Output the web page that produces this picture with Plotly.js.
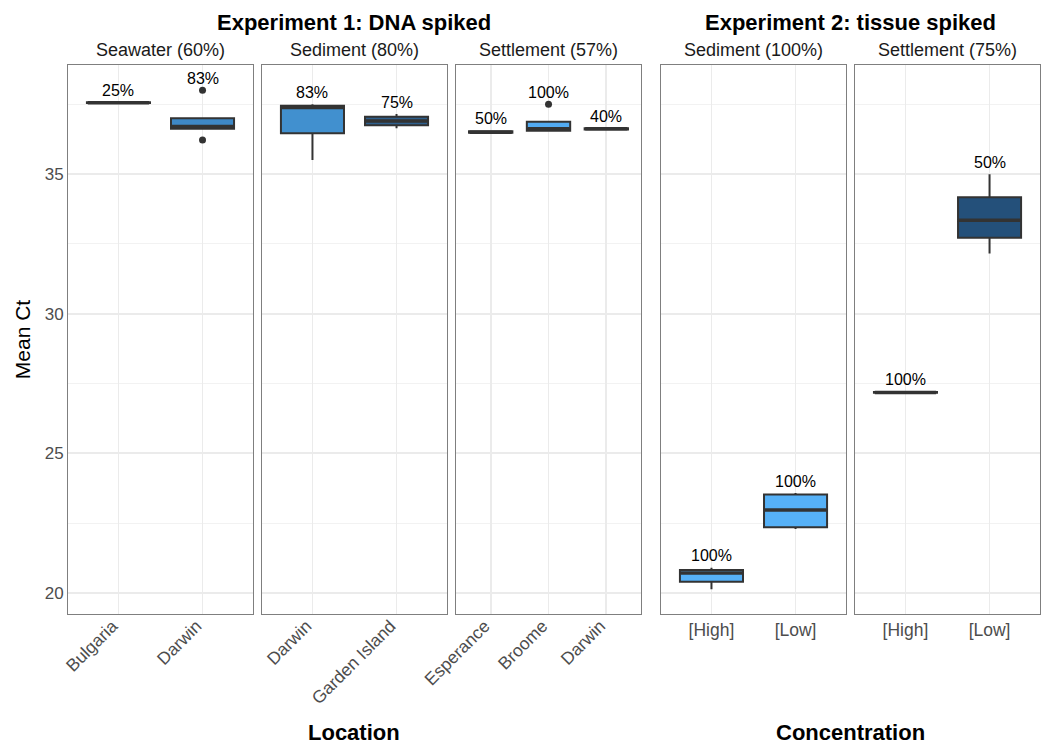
<!DOCTYPE html>
<html>
<head>
<meta charset="utf-8">
<script src="https://cdn.plot.ly/plotly-3.0.1.min.js"></script>
<style>body{margin:0;background:#fff}#chart{width:1047px;height:744px}</style>
</head>
<body>
<div id="chart"></div>
<script>
// ---- data ----
const panelTitles = ["Seawater (60%)", "Sediment (80%)", "Settlement (57%)", "Sediment (100%)", "Settlement (75%)"];
const experimentTitles = ["Experiment 1: DNA spiked", "Experiment 2: tissue spiked"];
const xTitles = ["Location", "Concentration"];
const yTitle = "Mean Ct";

const categories = [
  ["Bulgaria", "Darwin"],
  ["Darwin", "Garden Island"],
  ["Esperance", "Broome", "Darwin"],
  ["[High]", "[Low]"],
  ["[High]", "[Low]"]
];
const lowerFence = [
  [37.54, 36.62],
  [35.50, 36.64],
  [36.47, 36.52, 36.60],
  [20.13, 22.29],
  [27.17, 32.16]
];
const q1 = [
  [37.54, 36.62],
  [36.46, 36.75],
  [36.48, 36.55, 36.60],
  [20.40, 22.35],
  [27.17, 32.72]
];
const median = [
  [37.55, 36.70],
  [37.38, 36.90],
  [36.50, 36.62, 36.62],
  [20.72, 22.97],
  [27.18, 33.35]
];
const q3 = [
  [37.57, 37.00],
  [37.45, 37.05],
  [36.53, 36.87, 36.64],
  [20.82, 23.53],
  [27.20, 34.17]
];
const upperFence = [
  [37.57, 37.00],
  [37.50, 37.15],
  [36.56, 36.87, 36.64],
  [20.90, 23.58],
  [27.20, 34.99]
];
const outliers = [
  [[], [38.0, 36.22]],
  [[], []],
  [[], [37.5], []],
  [[], []],
  [[], []]
];
const detection = [
  ["25%", "83%"],
  ["83%", "75%"],
  ["50%", "100%", "40%"],
  ["100%", "100%"],
  ["100%", "50%"]
];

// ---- styles ----
const fills = [
  ["#132B43", "#3E88C6"],
  ["#4190CF", "#2E5F8C"],
  ["#24507A", "#52ABF2", "#1D3D5C"],
  ["#56B1F7", "#56B1F7"],
  ["#56B1F7", "#24507A"]
];
const FONT = "Liberation Sans, Arial, sans-serif";
const domains = [[0, 0.1903], [0.1996, 0.3899], [0.3992, 0.5895], [0.6101, 0.8004], [0.8097, 1]];
const yRange = [19.248, 38.905];

const traces = [];
const annotations = [];
const layout = {
  width: 1047, height: 744,
  margin: {l: 68, r: 7, t: 65, b: 130},
  paper_bgcolor: "#ffffff", plot_bgcolor: "#ffffff",
  showlegend: false,
  boxmode: "overlay",
  font: {family: FONT, color: "#4D4D4D"}
};

categories.forEach((cats, p) => {
  const xa = p === 0 ? "x" : "x" + (p + 1);
  const ya = p === 0 ? "y" : "y" + (p + 1);
  const xKey = p === 0 ? "xaxis" : "xaxis" + (p + 1);
  const yKey = p === 0 ? "yaxis" : "yaxis" + (p + 1);
  const rotated = p < 3;
  layout[xKey] = {
    domain: domains[p], anchor: ya, type: "category",
    categoryorder: "array", categoryarray: cats,
    range: [-0.6, cats.length - 0.4],
    showgrid: true, gridcolor: "#EBEBEB", gridwidth: 1.8,
    showline: true, mirror: true, linecolor: "#7F7F7F", linewidth: 1,
    ticks: "", zeroline: false,
    tickangle: rotated ? -45 : 0,
    ticklabelshift: rotated ? -6 : 0,
    ticklabelstandoff: rotated ? -6 : 0,
    tickfont: {family: FONT, size: 17.5, color: "#4D4D4D"},
    fixedrange: true
  };
  layout[yKey] = {
    domain: [0, 1], anchor: xa, range: yRange,
    tickvals: [20, 25, 30, 35],
    showticklabels: p === 0,
    showgrid: true, gridcolor: "#EBEBEB", gridwidth: 1.8,
    minor: {tickvals: [22.5, 27.5, 32.5, 37.5], showgrid: true, gridcolor: "#F2F2F2", gridwidth: 1.1, ticks: ""},
    showline: true, mirror: true, linecolor: "#7F7F7F", linewidth: 1,
    ticks: "", zeroline: false,
    tickfont: {family: FONT, size: 17, color: "#4D4D4D"},
    fixedrange: true
  };
  if (p === 0) {
    layout[yKey].title = {text: yTitle, font: {family: FONT, size: 21, color: "#000000"}, standoff: 8};
  }
  cats.forEach((c, i) => {
    traces.push({
      type: "box", xaxis: xa, yaxis: ya,
      x: [c],
      q1: [q1[p][i]], median: [median[p][i]], q3: [q3[p][i]],
      lowerfence: [lowerFence[p][i]], upperfence: [upperFence[p][i]],
      boxpoints: false, width: 0.75, whiskerwidth: 0,
      fillcolor: fills[p][i],
      line: {color: "#333333", width: 2},
      hoverinfo: "skip"
    });
    // thicker median line (ggplot fatten)
    traces.push({
      type: "box", xaxis: xa, yaxis: ya,
      x: [c],
      q1: [median[p][i]], median: [median[p][i]], q3: [median[p][i]],
      lowerfence: [median[p][i]], upperfence: [median[p][i]],
      boxpoints: false, width: 0.73, whiskerwidth: 0,
      fillcolor: "rgba(0,0,0,0)",
      line: {color: "#333333", width: 3.5},
      hoverinfo: "skip"
    });
    if (outliers[p][i].length) {
      traces.push({
        type: "scatter", mode: "markers", xaxis: xa, yaxis: ya,
        x: outliers[p][i].map(() => c), y: outliers[p][i],
        marker: {color: "#333333", size: 7}, hoverinfo: "skip"
      });
    }
    const top = Math.max(upperFence[p][i], ...outliers[p][i]);
    annotations.push({
      xref: xa, yref: ya, x: c, y: top, yshift: 12,
      text: detection[p][i], showarrow: false,
      xanchor: "center", yanchor: "middle",
      font: {family: FONT, size: 16, color: "#000000"}
    });
  });
  // strip titles
  annotations.push({
    xref: "paper", yref: "paper",
    x: (domains[p][0] + domains[p][1]) / 2, y: 1.0273,
    text: panelTitles[p], showarrow: false, xanchor: "center", yanchor: "middle",
    font: {family: FONT, size: 18, color: "#1A1A1A"}
  });
});

// experiment titles and x-axis titles
const groupCenters = [(domains[0][0] + domains[2][1]) / 2, (domains[3][0] + domains[4][1]) / 2];
experimentTitles.forEach((t, g) => {
  annotations.push({
    xref: "paper", yref: "paper", x: groupCenters[g], y: 1.078,
    text: "<b>" + t + "</b>", showarrow: false, xanchor: "center", yanchor: "middle",
    font: {family: FONT, size: 22, color: "#000000"}
  });
  annotations.push({
    xref: "paper", yref: "paper", x: groupCenters[g], y: -0.215,
    text: "<b>" + xTitles[g] + "</b>", showarrow: false, xanchor: "center", yanchor: "middle",
    font: {family: FONT, size: 22, color: "#000000"}
  });
});
layout.annotations = annotations;

Plotly.newPlot("chart", traces, layout, {staticPlot: true, displayModeBar: false});
</script>
</body>
</html>
